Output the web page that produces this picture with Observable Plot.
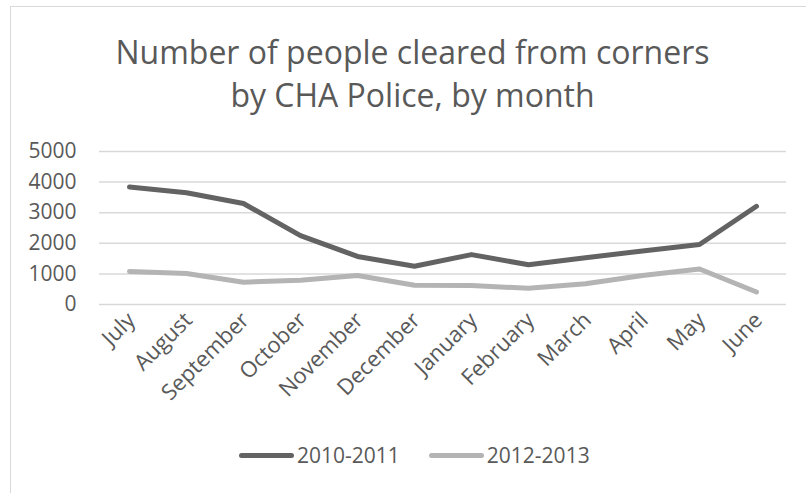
<!DOCTYPE html>
<html>
<head>
<meta charset="utf-8">
<script src="https://cdn.jsdelivr.net/npm/d3@7"></script>
<script src="https://cdn.jsdelivr.net/npm/@observablehq/plot@0.6"></script>
<style>
  html, body { margin: 0; padding: 0; background: #fff; }
  #wrap { position: relative; width: 806px; height: 493px; overflow: hidden; font-family: "Open Sans", sans-serif; color: #595959; }
  #frame { position: absolute; left: 10px; top: 6px; width: 900px; height: 600px; border-left: 1.5px solid #d9d9d9; border-top: 1.5px solid #d9d9d9; }
  #title { position: absolute; left: 0; top: 30px; width: 825px; text-align: center; font-size: 32px; line-height: 43px; }
  #chart { position: absolute; left: 0; top: 130px; }
  #legend { position: absolute; left: 239px; top: 441px; display: flex; align-items: center; font-size: 21px; }
  .item { display: flex; align-items: center; margin-right: 29px; }
  .sw { width: 55px; height: 5px; border-radius: 3px; margin-right: 3px; }
</style>
</head>
<body>
<div id="wrap">
  <div id="frame"></div>
  <div id="title">Number of people cleared from corners<br>by CHA Police, by month</div>
  <div id="chart"></div>
  <div id="legend"></div>
</div>
<script>
const months = ["July","August","September","October","November","December","January","February","March","April","May","June"];
const series2010 = [3840, 3650, 3300, 2250, 1570, 1250, 1630, 1300, 1530, 1750, 1960, 3210];
const series2012 = [1080, 1010, 730, 790, 950, 630, 620, 530, 680, 950, 1160, 410];
const seriesNames = ["2010-2011", "2012-2013"];
const seriesColors = ["#636363", "#b4b4b4"];
const yTicks = [0, 1000, 2000, 3000, 4000, 5000];

const rows = [];
months.forEach((m, i) => {
  rows.push({month: m, value: series2010[i], series: seriesNames[0]});
  rows.push({month: m, value: series2012[i], series: seriesNames[1]});
});

const chart = Plot.plot({
  width: 806,
  height: 300,
  marginLeft: 99,
  marginRight: 20,
  marginTop: 21,
  marginBottom: 126,
  style: {fontFamily: "Open Sans, sans-serif", fontSize: "21px", color: "#595959", background: "transparent", overflow: "visible"},
  x: {type: "point", domain: months, padding: 0.5},
  y: {domain: [0, 5000]},
  color: {domain: seriesNames, range: seriesColors},
  marks: [
    Plot.gridY(yTicks, {stroke: "#d9d9d9", strokeOpacity: 1, strokeWidth: 1.5}),
    Plot.axisY(yTicks, {tickSize: 0, tickPadding: 23, tickFormat: "d", label: null, fill: "#595959", fontSize: 21}),
    Plot.axisX(months, {tickSize: 0, tickRotate: -45, tickPadding: 12, dx: 2, label: null, fill: "#595959", fontSize: 22}),
    Plot.line(rows.filter(d => d.series === seriesNames[1]), {x: "month", y: "value", stroke: "series", strokeWidth: 5, strokeLinecap: "round", strokeLinejoin: "round"}),
    Plot.line(rows.filter(d => d.series === seriesNames[0]), {x: "month", y: "value", stroke: "series", strokeWidth: 5, strokeLinecap: "round", strokeLinejoin: "round"})
  ]
});
document.getElementById("chart").appendChild(chart);

const legend = document.getElementById("legend");
seriesNames.forEach((name, i) => {
  const item = document.createElement("div");
  item.className = "item";
  const sw = document.createElement("span");
  sw.className = "sw";
  sw.style.background = seriesColors[i];
  const t = document.createElement("span");
  t.textContent = name;
  item.appendChild(sw);
  item.appendChild(t);
  legend.appendChild(item);
});
</script>
</body>
</html>
